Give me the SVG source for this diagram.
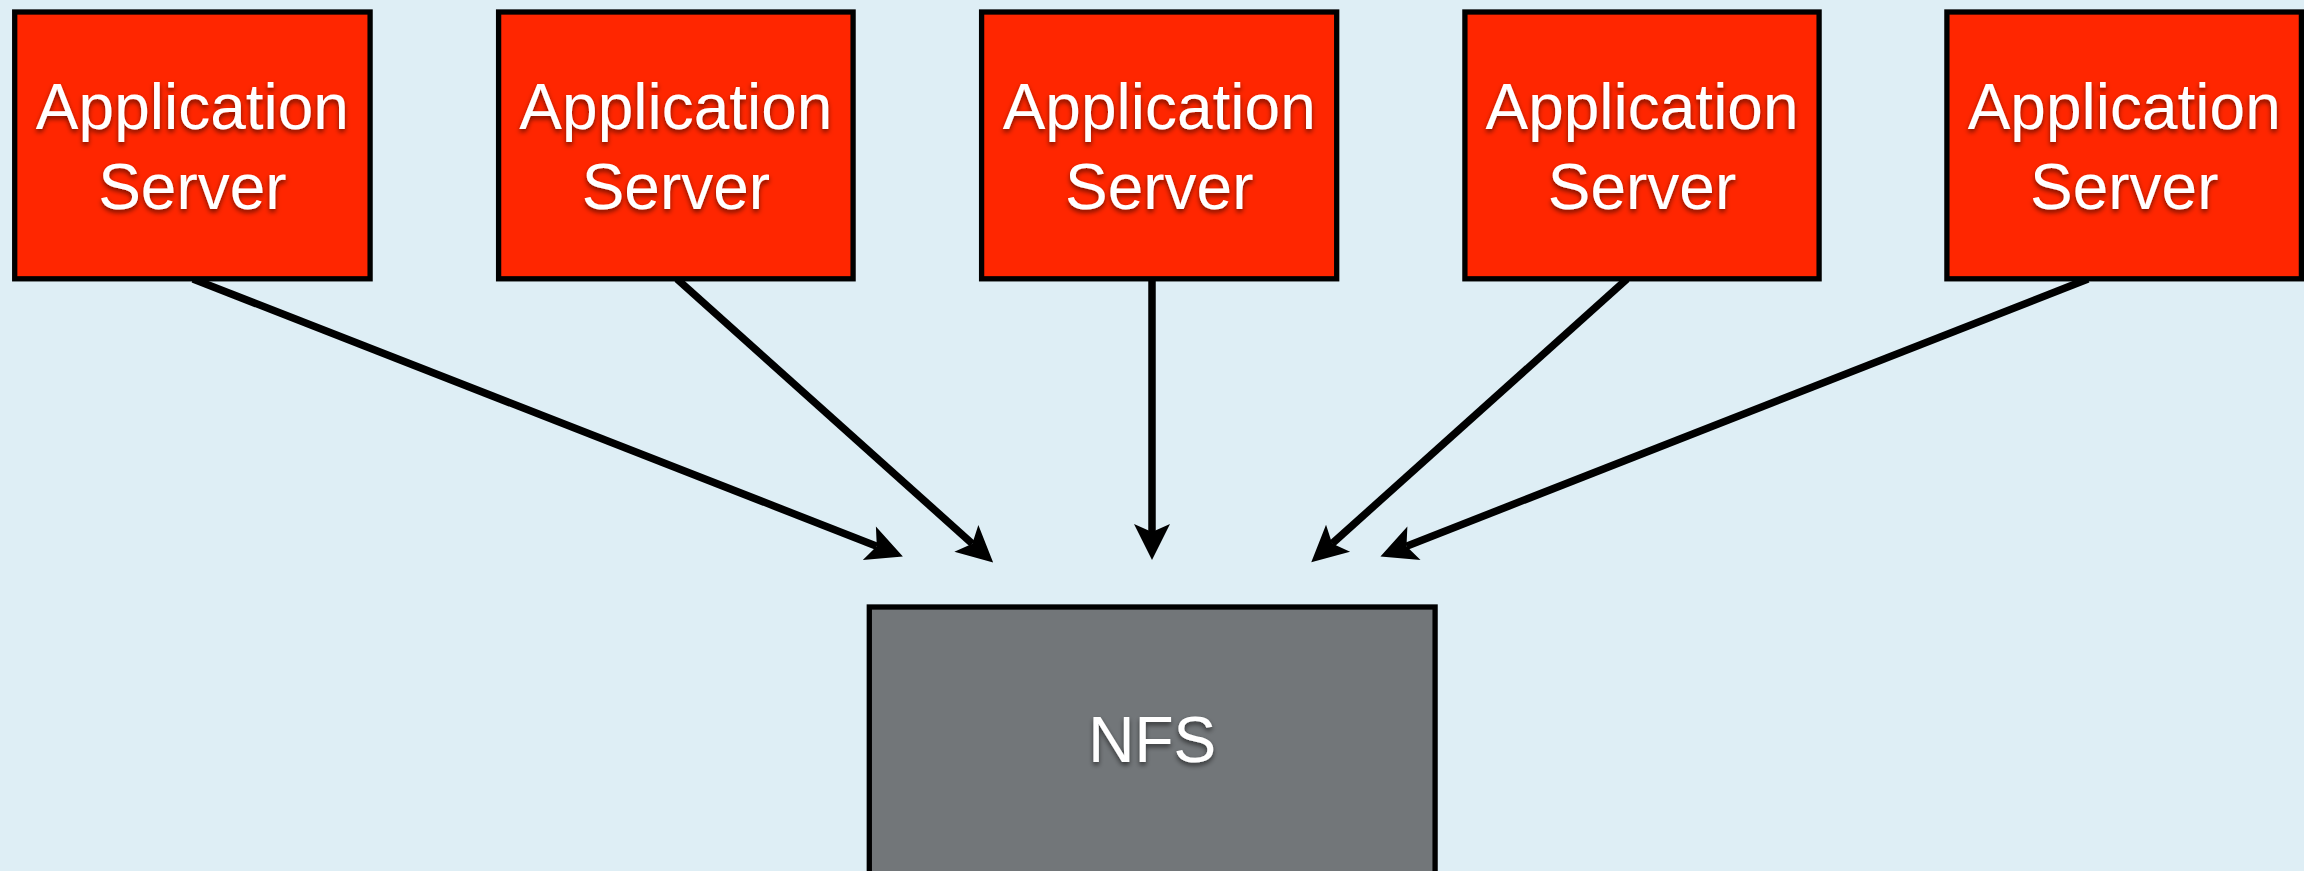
<svg xmlns="http://www.w3.org/2000/svg" width="2304" height="871" viewBox="0 0 2304 871">
  <defs>
    <style>
      .app { fill: #ff2600; stroke: #000; stroke-width: 5.3; }
      .store { fill: #727679; stroke: #000; stroke-width: 5.3; }
      .label { font-family: "Liberation Sans", Arial, sans-serif; font-size: 64px; fill: #ffffff; text-anchor: middle; filter: url(#shadow); }
      .link { fill: none; stroke: #000; stroke-width: 7.5; marker-end: url(#arrow); }
    </style>
    <filter id="shadow" x="-20%" y="-30%" width="140%" height="170%">
      <feDropShadow dx="0" dy="3" stdDeviation="2.5" flood-color="#000" flood-opacity="0.55"/>
    </filter>
    <marker id="arrow" markerUnits="userSpaceOnUse" orient="auto" refX="0" refY="0" markerWidth="80" markerHeight="80" viewBox="-40 -40 80 80" overflow="visible">
      <path d="M28,0 L-8,-18 L0,0 L-8,18 Z" fill="#000"/>
    </marker>
  </defs>

  <rect width="2304" height="871" fill="#deeef5"/>

  <!-- connectors: each application server to the shared NFS store -->
  <g id="connectors">
    <line class="link" x1="193" y1="279" x2="876.8" y2="546.2"/>
    <line class="link" x1="677" y1="279" x2="972.3" y2="543.7"/>
    <line class="link" x1="1152" y1="279" x2="1152" y2="532"/>
    <line class="link" x1="1627" y1="279" x2="1332.1" y2="543.6"/>
    <line class="link" x1="2088" y1="279" x2="1406.5" y2="546.2"/>
  </g>

  <g id="app-server-1">
    <rect class="app" x="14.7" y="12" width="355.4" height="266.8"/>
    <text class="label" x="192.4" y="129">Application</text>
    <text class="label" x="192.4" y="209">Server</text>
  </g>
  <g id="app-server-2">
    <rect class="app" x="498.6" y="12" width="354.5" height="266.8"/>
    <text class="label" x="675.9" y="129">Application</text>
    <text class="label" x="675.9" y="209">Server</text>
  </g>
  <g id="app-server-3">
    <rect class="app" x="981.6" y="12" width="355.1" height="266.8"/>
    <text class="label" x="1159.2" y="129">Application</text>
    <text class="label" x="1159.2" y="209">Server</text>
  </g>
  <g id="app-server-4">
    <rect class="app" x="1464.9" y="12" width="354.2" height="266.8"/>
    <text class="label" x="1642" y="129">Application</text>
    <text class="label" x="1642" y="209">Server</text>
  </g>
  <g id="app-server-5">
    <rect class="app" x="1946.9" y="12" width="354.5" height="266.8"/>
    <text class="label" x="2124.2" y="129">Application</text>
    <text class="label" x="2124.2" y="209">Server</text>
  </g>

  <g id="nfs">
    <rect class="store" x="869.3" y="607" width="565.8" height="300"/>
    <text class="label" x="1152.2" y="762">NFS</text>
  </g>
</svg>
